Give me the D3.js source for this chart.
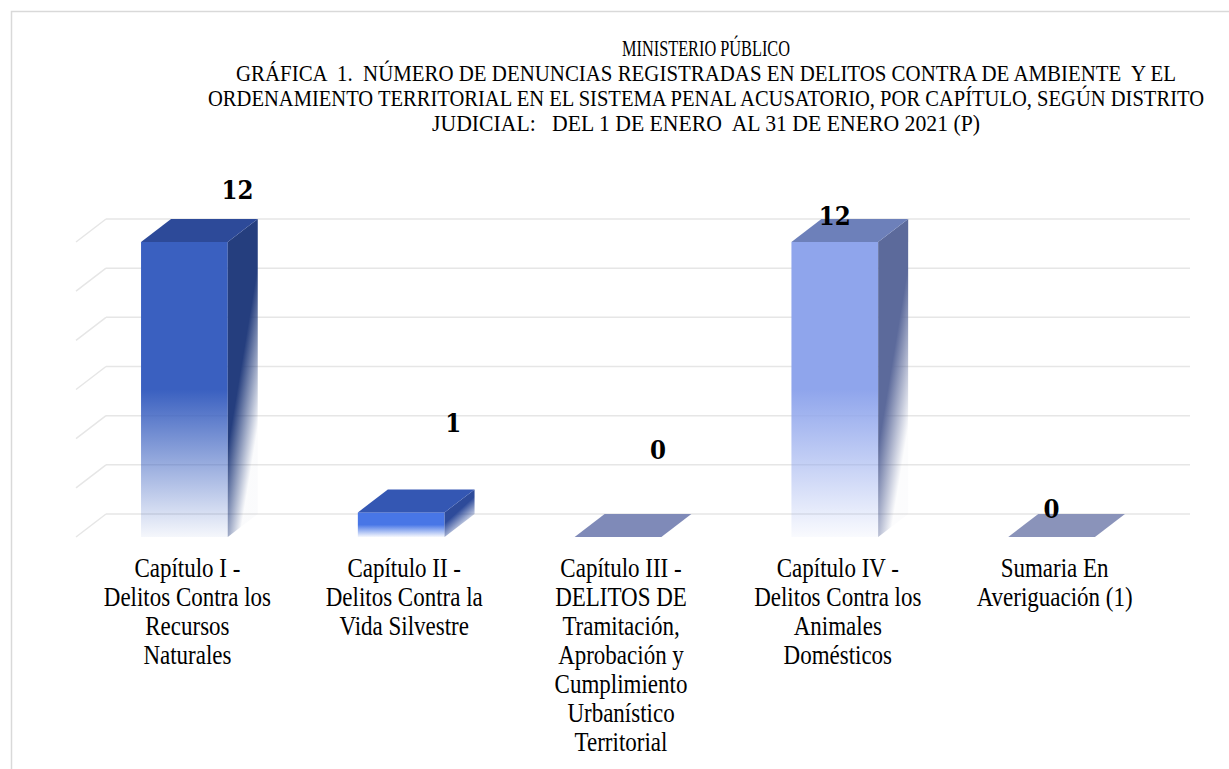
<!DOCTYPE html>
<html>
<head>
<meta charset="utf-8">
<script src="https://cdn.jsdelivr.net/npm/d3@7"></script>
<style>
  body { margin: 0; background: #fff; }
  text { font-family: "Liberation Serif", serif; fill: #000; white-space: pre; }
</style>
</head>
<body>
<div id="chart"></div>
<script>
// chart data
var categories = ["Capítulo I", "Capítulo II", "Capítulo III", "Capítulo IV", "Sumaria"];
var values = [12, 1, 0, 12, 0];
var tickValues = [0, 2, 4, 6, 8, 10, 12];
var tickLabels = [
    ["Capítulo I -", "Delitos Contra los", "Recursos", "Naturales"],
    ["Capítulo II -", "Delitos Contra la", "Vida Silvestre"],
    ["Capítulo III -", "DELITOS DE", "Tramitación,", "Aprobación y", "Cumplimiento", "Urbanístico", "Territorial"],
    ["Capítulo IV -", "Delitos Contra los", "Animales", "Domésticos"],
    ["Sumaria En", "Averiguación (1)"]
];
var titleLines = [
    "MINISTERIO PÚBLICO",
    "GRÁFICA  1.  NÚMERO DE DENUNCIAS REGISTRADAS EN DELITOS CONTRA DE AMBIENTE  Y EL",
    "ORDENAMIENTO TERRITORIAL EN EL SISTEMA PENAL ACUSATORIO, POR CAPÍTULO, SEGÚN DISTRITO",
    "JUDICIAL:   DEL 1 DE ENERO  AL 31 DE ENERO 2021 (P)"
];

// styles (front, top, side) for each bar
var barColors = [
    ["#3a60c0", "#2d4a99", "#253e7e"],
    ["#4876e6", "#3457b3", "#2e4b9a"],
    ["#8a9be0", "#7f8ab8", "#5c6a9a"],
    ["#8fa5ec", "#6d80ba", "#5c6a9b"],
    ["#8a9be0", "#8a93ba", "#5c6a9a"]
];
// where the data labels sit, relative to the top back centre of each bar
var labelNudge = [[23, -20], [22, -57], [10, -55], [-30, 6], [-30, 4]];

var width = 1229,
    height = 769,
    depthX = 30,
    depthY = 23,
    stretch = 1.15;

var svg = d3.select("#chart").append("svg")
    .attr("width", width)
    .attr("height", height);

// light frame round the chart area
svg.append("rect")
    .attr("x", 11.5).attr("y", 11.5)
    .attr("width", 1300).attr("height", 900)
    .attr("fill", "none")
    .attr("stroke", "#d9d9d9")
    .attr("stroke-width", 1.5);

var x = d3.scaleBand()
    .domain(categories)
    .range([106, 1190])
    .paddingInner(0.6)
    .paddingOuter(0.3);

var y = d3.scaleLinear()
    .domain([0, 12])
    .range([514, 219]);

// title
var title = svg.append("g");
var titleWidths = [168, 940, 996, 548];
var titleBase = [56, 81, 106, 131];
titleLines.forEach(function(t, i) {
    title.append("text")
        .attr("transform", "translate(706," + titleBase[i] + ") scale(1,1.22)")
        .attr("text-anchor", "middle")
        .attr("font-size", 19)
        .attr("textLength", titleWidths[i])
        .attr("lengthAdjust", "spacingAndGlyphs")
        .text(t);
});

// gridlines: back wall plus the short diagonal on the left side wall
var grid = svg.append("g");
tickValues.forEach(function(t) {
    grid.append("line")
        .attr("x1", x.range()[0]).attr("x2", x.range()[1])
        .attr("y1", y(t)).attr("y2", y(t))
        .attr("stroke", "#e6e6e6").attr("stroke-width", 1.5);
    grid.append("line")
        .attr("x1", x.range()[0] - depthX).attr("x2", x.range()[0])
        .attr("y1", y(t) + depthY).attr("y2", y(t))
        .attr("stroke", "#e6e6e6").attr("stroke-width", 1.5);
});

// gradients so the lower part of each bar fades out
var defs = svg.append("defs");
barColors.forEach(function(c, i) {
    var gf = defs.append("linearGradient")
        .attr("id", "front" + i)
        .attr("x1", 0).attr("y1", 0).attr("x2", 0).attr("y2", 1);
    gf.append("stop").attr("offset", 0).attr("stop-color", c[0]);
    gf.append("stop").attr("offset", 0.5).attr("stop-color", c[0]);
    gf.append("stop").attr("offset", 1).attr("stop-color", c[0]).attr("stop-opacity", 0.05);

    var gs = defs.append("linearGradient")
        .attr("id", "side" + i)
        .attr("x1", 0).attr("y1", 0.3).attr("x2", 0.4).attr("y2", 1);
    gs.append("stop").attr("offset", 0).attr("stop-color", c[2]);
    gs.append("stop").attr("offset", 0.45).attr("stop-color", c[2]);
    gs.append("stop").attr("offset", 1).attr("stop-color", c[2]).attr("stop-opacity", 0.02);
});

var bars = svg.selectAll(".bar")
    .data(values)
    .enter()
    .append("g")
    .attr("class", "bar");

bars.each(function(v, i) {
    var g = d3.select(this);
    var bx = x(categories[i]),
        bw = x.bandwidth(),
        top = y(v),
        base = y(0);

    if (v > 0) {
        // front face
        g.append("rect")
            .attr("x", bx - depthX)
            .attr("y", top + depthY)
            .attr("width", bw)
            .attr("height", base - top)
            .attr("fill", "url(#front" + i + ")");
        // side face
        g.append("polygon")
            .attr("points", [
                [bx + bw - depthX, top + depthY],
                [bx + bw, top],
                [bx + bw, base],
                [bx + bw - depthX, base + depthY]
            ].join(" "))
            .attr("fill", "url(#side" + i + ")");
    }
    // top face
    g.append("polygon")
        .attr("points", [
            [bx - depthX, top + depthY],
            [bx, top],
            [bx + bw, top],
            [bx + bw - depthX, top + depthY]
        ].join(" "))
        .attr("fill", barColors[i][1]);

    // data label
    g.append("text")
        .attr("transform", "translate(" + (bx + bw / 2 + labelNudge[i][0]) + "," + (top + labelNudge[i][1]) + ") scale(1," + stretch + ")")
        .attr("text-anchor", "middle")
        .style("font-family", "'DejaVu Serif', serif")
        .attr("font-weight", "bold")
        .attr("font-size", 23)
        .text(v);
});

// category labels under each bar
var axis = svg.append("g");
categories.forEach(function(c, i) {
    var cx = x(c) + x.bandwidth() / 2 - depthX + 3;
    tickLabels[i].forEach(function(line, j) {
        axis.append("text")
            .attr("transform", "translate(" + cx + "," + (577 + j * 29) + ") scale(1," + stretch + ")")
            .attr("text-anchor", "middle")
            .attr("font-size", 23)
            .text(line);
    });
});
</script>
</body>
</html>
